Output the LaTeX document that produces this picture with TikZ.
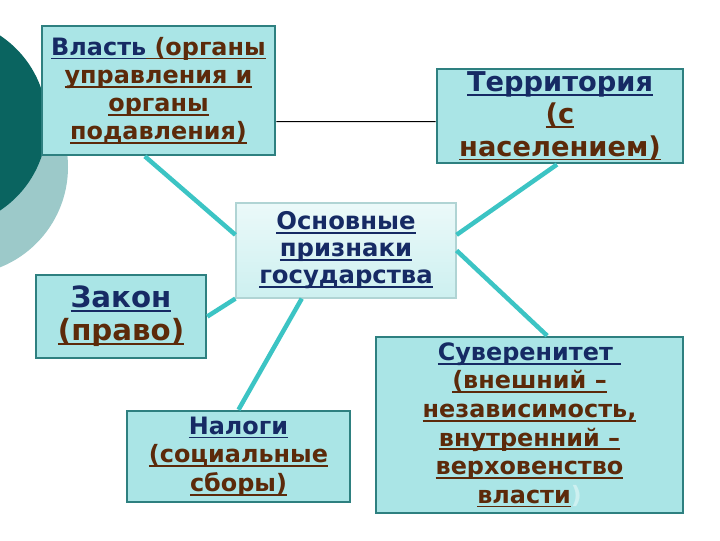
\documentclass[tikz,border=0pt]{standalone}
\usepackage{fontspec}
\setmainfont{DejaVu Sans}
\usetikzlibrary{calc}
\definecolor{darkteal}{RGB}{10,100,96}
\definecolor{paleteal}{RGB}{156,201,201}
\definecolor{boxfill}{RGB}{170,229,230}
\definecolor{boxline}{RGB}{46,128,128}
\definecolor{linkcyan}{RGB}{60,196,196}
\definecolor{navytext}{RGB}{22,42,100}
\definecolor{browntext}{RGB}{92,42,10}
\definecolor{faintcyan}{RGB}{205,240,240}

% underlined word, fixed underline depth
\newcommand\ulword[2]{{\color{#1}\setbox0\hbox{#2}\rlap{\rule[-3pt]{\wd0}{1.3pt}}\box0}}

\tikzset{
  % Feature box
  signbox/.style={
    draw=boxline, fill=boxfill, line width=1.8pt,
    align=center, inner sep=2pt
  },
  % Centre box
  mainbox/.style={
    draw=paleteal!80, line width=0.8pt,
    top color=faintcyan!40, bottom color=faintcyan,
    align=center, inner sep=2pt
  },
  % Connector
  link/.style={
    draw=linkcyan, line width=3.2pt
  },
}

\begin{document}
\begin{tikzpicture}[x=0.025cm, y=-0.025cm]

\useasboundingbox (0,0) rectangle (720,540);

% ── Side circles ──────────────────────────────────────────────────────────────
\fill[paleteal] (-40,167) circle (108);
\fill[darkteal] (-58,123) circle (105);

% ── Boxes ─────────────────────────────────────────────────────────────────────
\node[signbox, minimum width=5.825cm, minimum height=3.225cm,
      font=\bfseries\fontsize{17}{20}\selectfont]
  (vlast) at (158.5,90.5)
  {\ulword{navytext}{Власть}\ulword{browntext}{ (органы}\\
   \ulword{browntext}{управления и}\\
   \ulword{browntext}{органы}\\
   \ulword{browntext}{подавления)}};

\node[signbox, minimum width=6.15cm, minimum height=2.2cm,
      font=\bfseries\fontsize{19.4}{23}\selectfont]
  (terr) at (560,116)
  {\ulword{navytext}{Территория}\\
   \ulword{browntext}{(с}\\
   \ulword{browntext}{населением)}};

\node[mainbox, minimum width=5.5cm, minimum height=2.375cm,
      font=\bfseries\fontsize{17.3}{19.2}\selectfont]
  (osn) at (346,250.5)
  {\ulword{navytext}{Основные}\\
   \ulword{navytext}{признаки}\\
   \ulword{navytext}{государства}};

\node[signbox, minimum width=4.25cm, minimum height=2.075cm,
      font=\bfseries\fontsize{20.8}{23.5}\selectfont]
  (zakon) at (121,316.5)
  {\ulword{navytext}{Закон}\\
   \ulword{browntext}{(право)}};

\node[signbox, minimum width=5.575cm, minimum height=2.275cm,
      font=\bfseries\fontsize{17}{20.3}\selectfont]
  (nalogi) at (238.5,456.5)
  {\ulword{navytext}{Налоги}\\
   \ulword{browntext}{(социальные}\\
   \ulword{browntext}{сборы)}};

\node[signbox, minimum width=7.675cm, minimum height=4.4cm,
      font=\bfseries\fontsize{17}{20.3}\selectfont]
  (suv) at (529.5,425)
  {\ulword{navytext}{Суверенитет }\\
   \ulword{browntext}{(внешний –}\\
   \ulword{browntext}{независимость,}\\
   \ulword{browntext}{внутренний –}\\
   \ulword{browntext}{верховенство}\\
   \ulword{browntext}{власти}{\color{faintcyan})}};

% ── Connectors ────────────────────────────────────────────────────────────────
\draw[black, line width=0.7pt]
  ($(vlast.north east)!0.736!(vlast.south east)$) --
  ($(terr.north west)!0.557!(terr.south west)$);

\draw[link] ($(vlast.south west)!0.442!(vlast.south east)$) --
  ($(osn.north west)!0.337!(osn.south west)$);
\draw[link] ($(terr.south west)!0.488!(terr.south east)$) --
  ($(osn.north east)!0.337!(osn.south east)$);
\draw[link] (osn.east) --
  ($(suv.north west)!0.557!(suv.north east)$);
\draw[link] (zakon.east) -- (osn.south west);
\draw[link] ($(osn.south west)!0.3!(osn.south east)$) -- (nalogi.north);

\end{tikzpicture}
\end{document}
